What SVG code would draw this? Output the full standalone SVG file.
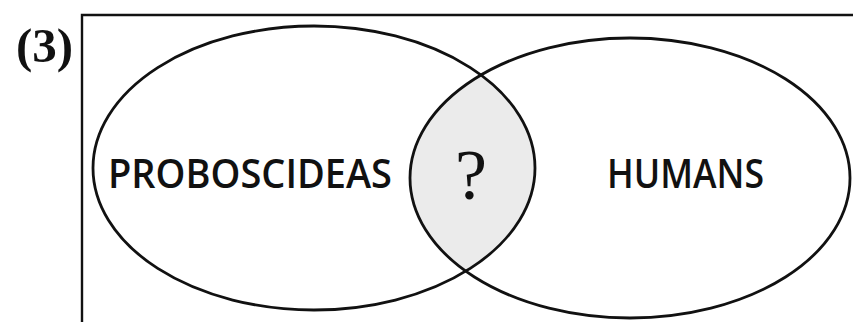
<svg xmlns="http://www.w3.org/2000/svg" width="853" height="322" viewBox="0 0 853 322">
<style>
.ring{fill:none;stroke:#111;stroke-width:2.8}
.lbl{font-family:"Open Sans","DejaVu Sans",sans-serif;font-size:40px;font-weight:600;fill:#111}
</style>
<defs>
<clipPath id="clipL"><ellipse cx="314" cy="168" rx="221" ry="142"/></clipPath>
</defs>
<rect width="853" height="322" fill="#fff"/>
<g id="frame">
<path d="M82 322 V15 H853" fill="none" stroke="#111" stroke-width="2.4"/>
</g>
<text id="label-3" x="16" y="62" font-family="Liberation Serif,serif" font-weight="bold" font-size="49" fill="#111">(3)</text>
<g id="intersection">
<ellipse cx="630" cy="178" rx="220" ry="140" fill="#ebebeb" clip-path="url(#clipL)"/>
<text x="471" y="199" font-family="Liberation Serif,serif" font-size="72" text-anchor="middle" fill="#111">?</text>
</g>
<g id="proboscideas">
<ellipse class="ring" cx="314" cy="168" rx="221" ry="142"/>
<text class="lbl" x="108" y="188" textLength="284" lengthAdjust="spacingAndGlyphs">PROBOSCIDEAS</text>
</g>
<g id="humans">
<ellipse class="ring" cx="630" cy="178" rx="220" ry="140"/>
<text class="lbl" x="607" y="188" textLength="157" lengthAdjust="spacingAndGlyphs">HUMANS</text>
</g>
<g id="connectors"/>
</svg>
